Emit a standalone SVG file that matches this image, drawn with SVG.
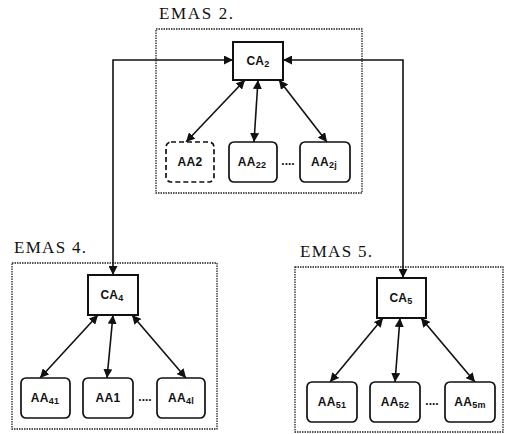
<svg xmlns="http://www.w3.org/2000/svg" width="509" height="434" viewBox="0 0 509 434">
<style>
.title{font-family:"Liberation Serif","Times New Roman",serif;font-size:17px;fill:#111}
.lbl{font-family:"Liberation Sans",Arial,sans-serif;font-size:12px;font-weight:bold;fill:#111;text-anchor:middle;letter-spacing:0.3px}
.sub{font-size:9px}
.frame{fill:none;stroke:#222;stroke-width:1.3;stroke-dasharray:1.5 1}
.ca{fill:#fff;stroke:#111;stroke-width:2}
.aa{fill:#fff;stroke:#111;stroke-width:1.7}
.conn{fill:none;stroke:#111;stroke-width:1.6;marker-start:url(#ah);marker-end:url(#ah)}
.dots{font-family:"Liberation Sans",Arial,sans-serif;font-size:12px;font-weight:bold;fill:#111;text-anchor:middle}
</style>
<defs>
<marker id="ah" viewBox="0 0 10 10" refX="10" refY="5" markerWidth="9" markerHeight="9" markerUnits="userSpaceOnUse" orient="auto-start-reverse">
<path d="M0,0 L10,5 L0,10 z" fill="#111"/>
</marker>
</defs>
<rect width="509" height="434" fill="#fff"/>

<g id="emas2">
<text class="title" x="159" y="19" textLength="74">EMAS 2.</text>
<rect class="frame" x="156" y="29" width="206" height="164"/>
</g>
<g id="emas4">
<text class="title" x="14" y="253" textLength="72">EMAS 4.</text>
<rect class="frame" x="12" y="263" width="205" height="166"/>
</g>
<g id="emas5">
<text class="title" x="300" y="257" textLength="72">EMAS 5.</text>
<rect class="frame" x="295" y="267" width="208" height="165"/>
</g>

<g id="connectors">
<path class="conn" d="M113,275 L113,60 L233,60"/>
<path class="conn" d="M403,278 L403,60 L283,60"/>
<line class="conn" x1="245" y1="80" x2="186" y2="142"/>
<line class="conn" x1="258" y1="80" x2="254" y2="142"/>
<line class="conn" x1="279" y1="80" x2="327" y2="142"/>
<line class="conn" x1="98" y1="315" x2="40" y2="378"/>
<line class="conn" x1="113" y1="315" x2="107" y2="378"/>
<line class="conn" x1="132" y1="315" x2="186" y2="378"/>
<line class="conn" x1="383" y1="318" x2="330" y2="382"/>
<line class="conn" x1="400" y1="318" x2="395" y2="382"/>
<line class="conn" x1="421" y1="318" x2="475" y2="382"/>
</g>

<g id="ca2"><rect class="ca" x="233" y="42" width="50" height="38"/><text class="lbl" x="258" y="65">CA<tspan class="sub" dy="2">2</tspan></text></g>
<g id="aa2"><rect class="aa" x="166" y="142" width="48" height="40" rx="5" stroke-dasharray="5 3"/><text class="lbl" x="190" y="166">AA2</text></g>
<g id="aa22"><rect class="aa" x="229" y="142" width="48" height="40" rx="5"/><text class="lbl" x="252" y="166">AA<tspan class="sub" dy="2">22</tspan></text></g>
<g id="aa2j"><rect class="aa" x="300" y="142" width="50" height="40" rx="5"/><text class="lbl" x="324" y="166">AA<tspan class="sub" dy="2">2j</tspan></text></g>
<text class="dots" x="288" y="165">....</text>

<g id="ca4"><rect class="ca" x="88" y="275" width="50" height="40"/><text class="lbl" x="112" y="299">CA<tspan class="sub" dy="2">4</tspan></text></g>
<g id="aa41"><rect class="aa" x="21" y="378" width="49" height="40" rx="5"/><text class="lbl" x="45" y="402">AA<tspan class="sub" dy="2">41</tspan></text></g>
<g id="aa1"><rect class="aa" x="83" y="378" width="50" height="40" rx="5" stroke-width="2.2"/><text class="lbl" x="108" y="402">AA1</text></g>
<g id="aa4l"><rect class="aa" x="157" y="378" width="48" height="40" rx="5"/><text class="lbl" x="181" y="402">AA<tspan class="sub" dy="2">4l</tspan></text></g>
<text class="dots" x="145" y="401">....</text>

<g id="ca5"><rect class="ca" x="377" y="278" width="49" height="40" stroke-width="1.5"/><text class="lbl" x="401" y="302">CA<tspan class="sub" dy="2">5</tspan></text></g>
<g id="aa51"><rect class="aa" x="307" y="382" width="50" height="40" rx="5"/><text class="lbl" x="332" y="406">AA<tspan class="sub" dy="2">51</tspan></text></g>
<g id="aa52"><rect class="aa" x="370" y="382" width="50" height="40" rx="5"/><text class="lbl" x="395" y="406">AA<tspan class="sub" dy="2">52</tspan></text></g>
<g id="aa5m"><rect class="aa" x="445" y="382" width="50" height="40" rx="5"/><text class="lbl" x="470" y="406">AA<tspan class="sub" dy="2">5m</tspan></text></g>
<text class="dots" x="432" y="405">....</text>
</svg>
